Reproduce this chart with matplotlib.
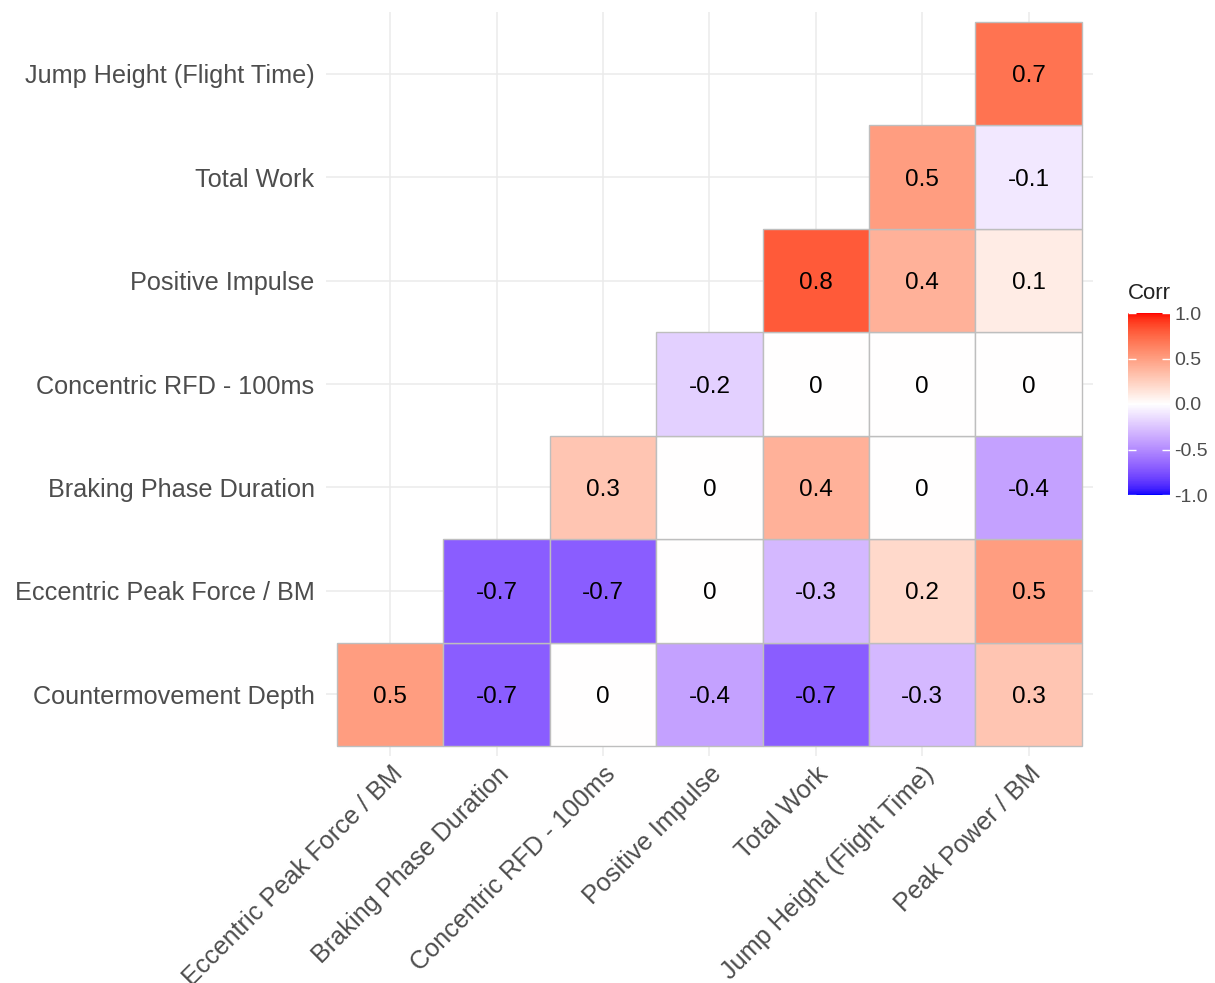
import numpy as np
import matplotlib
matplotlib.use('Agg')
import matplotlib.pyplot as plt
from matplotlib.colors import ListedColormap, Normalize
from matplotlib.patches import Rectangle
from matplotlib.cm import ScalarMappable

plt.rcParams['font.family'] = ['Liberation Sans', 'DejaVu Sans']

# rows from bottom to top, columns from left to right
row_labels = ['Countermovement Depth', 'Eccentric Peak Force / BM', 'Braking Phase Duration',
              'Concentric RFD - 100ms', 'Positive Impulse', 'Total Work', 'Jump Height (Flight Time)']
col_labels = ['Eccentric Peak Force / BM', 'Braking Phase Duration', 'Concentric RFD - 100ms',
              'Positive Impulse', 'Total Work', 'Jump Height (Flight Time)', 'Peak Power / BM']
nan = np.nan
corr = np.array([
    [0.5, -0.7, 0.0, -0.4, -0.7, -0.3, 0.3],
    [nan, -0.7, -0.7, 0.0, -0.3, 0.2, 0.5],
    [nan, nan, 0.3, 0.0, 0.4, 0.0, -0.4],
    [nan, nan, nan, -0.2, 0.0, 0.0, 0.0],
    [nan, nan, nan, nan, 0.8, 0.4, 0.1],
    [nan, nan, nan, nan, nan, 0.5, -0.1],
    [nan, nan, nan, nan, nan, nan, 0.7],
])
cbar_ticks = [-1.0, -0.5, 0.0, 0.5, 1.0]

# blue - white - red gradient interpolated in Lab space (like ggplot's gradient2)
M = np.array([[0.4124, 0.3576, 0.1805], [0.2126, 0.7152, 0.0722], [0.0193, 0.1192, 0.9505]])
WP = np.array([0.95047, 1.0, 1.08883])

def to_lab(rgb):
    c = np.array(rgb, float)
    c = np.where(c > 0.04045, ((c + 0.055) / 1.055) ** 2.4, c / 12.92)
    xyz = M @ c / WP
    f = np.where(xyz > (6 / 29) ** 3, np.cbrt(xyz), xyz / (3 * (6 / 29) ** 2) + 4 / 29)
    return np.array([116 * f[1] - 16, 500 * (f[0] - f[1]), 200 * (f[1] - f[2])])

def from_lab(lab):
    L, a, b = lab
    fy = (L + 16) / 116
    f = np.array([fy + a / 500, fy, fy - b / 200])
    xyz = np.where(f > 6 / 29, f ** 3, 3 * (6 / 29) ** 2 * (f - 4 / 29)) * WP
    c = np.clip(np.linalg.inv(M) @ xyz, 0, 1)
    c = np.where(c > 0.0031308, 1.055 * c ** (1 / 2.4) - 0.055, 12.92 * c)
    return np.clip(c, 0, 1)

lab_blue, lab_white, lab_red = to_lab([0, 0, 1]), to_lab([1, 1, 1]), to_lab([1, 0, 0])
cols = []
for t in np.linspace(-1, 1, 256):
    end = lab_blue if t < 0 else lab_red
    cols.append(from_lab(lab_white + abs(t) * (end - lab_white)))
cmap = ListedColormap(cols)
norm = Normalize(-1, 1)

fig = plt.figure(figsize=(12.15, 9.83), dpi=100)
ax = fig.add_axes([0.2686, 0.2306, 0.6306, 0.7575])

for i in range(len(row_labels)):
    for j in range(len(col_labels)):
        v = corr[i, j]
        if np.isnan(v):
            continue
        ax.add_patch(Rectangle((j - 0.5, i - 0.5), 1, 1, facecolor=cmap(norm(v)),
                               edgecolor='#BEBEBE', linewidth=1.0, zorder=2))
        txt = '0' if v == 0 else f'{v:g}'
        ax.text(j, i, txt, ha='center', va='center_baseline', fontsize=17.5,
                color='black', zorder=3)

ax.set_xlim(-0.6, 6.6)
ax.set_ylim(-0.6, 6.6)
ax.set_xticks(range(len(col_labels)))
ax.set_yticks(range(len(row_labels)))
ax.set_xticklabels(col_labels, rotation=45, ha='right', rotation_mode='anchor')
ax.set_yticklabels(row_labels)
ax.tick_params(axis='both', length=0, labelsize=18.2, labelcolor='#4D4D4D')
ax.tick_params(axis='y', pad=8.5)
ax.tick_params(axis='x', pad=4)
ax.grid(True, color='#EBEBEB', linewidth=1.1)
ax.set_axisbelow(True)
for s in ax.spines.values():
    s.set_visible(False)

# colour bar legend
cax = fig.add_axes([1128 / 1215, 1 - 495 / 983, 42 / 1215, 182 / 983])
cb = fig.colorbar(ScalarMappable(norm=norm, cmap=cmap), cax=cax, ticks=cbar_ticks)
cb.outline.set_visible(False)
cb.ax.set_yticklabels([f'{t:.1f}' for t in cbar_ticks])
cax.tick_params(axis='y', left=True, right=True, labelleft=False, labelright=True,
                direction='in', color='white', length=6, width=1,
                labelsize=14, labelcolor='#4D4D4D', pad=3)
cax.text(0, 1.05, 'Corr', transform=cax.transAxes, ha='left', va='bottom',
         fontsize=16, color='#222222')

fig.savefig('out.png', dpi=100, facecolor='white')
